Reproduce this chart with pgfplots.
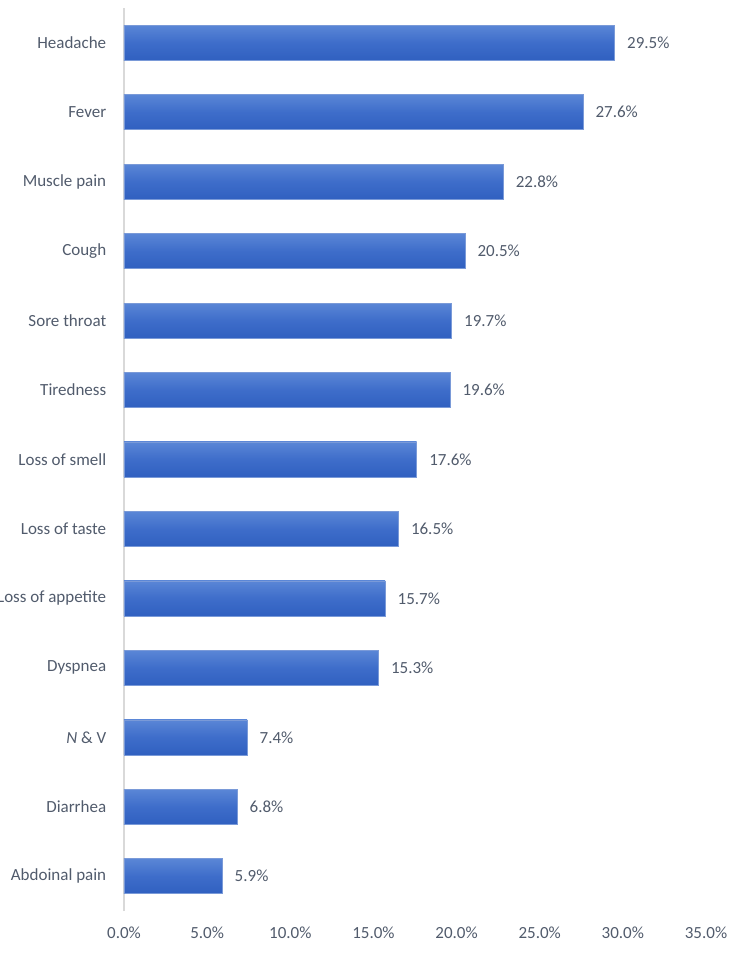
\documentclass[border=0pt]{standalone}
\usepackage{fontspec}
\setmainfont{Carlito}
\usepackage{pgfplots}
\pgfplotsset{compat=1.18}

\definecolor{txt}{HTML}{515B6C}
\definecolor{axisgray}{HTML}{D9D9D9}
\definecolor{bartop}{HTML}{5A86D6}
\definecolor{barmid}{HTML}{3E6DCA}
\definecolor{barbot}{HTML}{3060C0}
\definecolor{baredge}{HTML}{7A9AD8}

% position 12 = top bar
\pgfplotstableread{
pos val
12 29.5
11 27.6
10 22.8
9  20.5
8  19.7
7  19.6
6  17.6
5  16.5
4  15.7
3  15.3
2  7.4
1  6.8
0  5.9
}\symptoms

\begin{document}
\begin{tikzpicture}
\path[use as bounding box] (-124pt,-42pt) rectangle (626pt,911pt);
\begin{axis}[
    scale only axis,
    width=582pt, height=903pt,
    xbar, bar width=35pt, bar shift=0pt,
    xmin=0, xmax=35,
    ymin=-0.5, ymax=12.5,
    xtick={0,5,...,35},
    ytick={0,...,12},
    yticklabels={Abdoinal pain, Diarrhea, {{\itshape N} \& V}, Dyspnea,
      Loss of appetite, Loss of taste, Loss of smell, Tiredness,
      Sore throat, Cough, Muscle pain, Fever, Headache},
    xticklabel={\pgfmathprintnumber[fixed,fixed zerofill,precision=1]{\tick}\%},
    axis lines*=left,
    x axis line style={draw=none},
    y axis line style={draw=axisgray, line width=1.2pt},
    major tick style={draw=none},
    ticklabel style={font=\fontsize{17}{20}\selectfont, text=txt},
    /pgf/number format/assume math mode=true,
    xticklabel style={yshift=-12pt},
    yticklabel style={xshift=-10pt},
    nodes near coords={\pgfmathprintnumber[fixed,fixed zerofill,precision=1]{\pgfplotspointmeta}\%},
    nodes near coords style={font=\fontsize{17}{20}\selectfont, text=txt, anchor=west, xshift=9pt},
    point meta=explicit,
]
% one plot per bar so that each bar gets its own gradient
\pgfplotsinvokeforeach{0,...,12}{
  \addplot[top color=bartop, bottom color=barbot, middle color=barmid,
    draw=baredge, line width=0.6pt, restrict y to domain=#1:#1]
    table[x=val, y=pos, meta=val] {\symptoms};
}
\end{axis}
\end{tikzpicture}
\end{document}
